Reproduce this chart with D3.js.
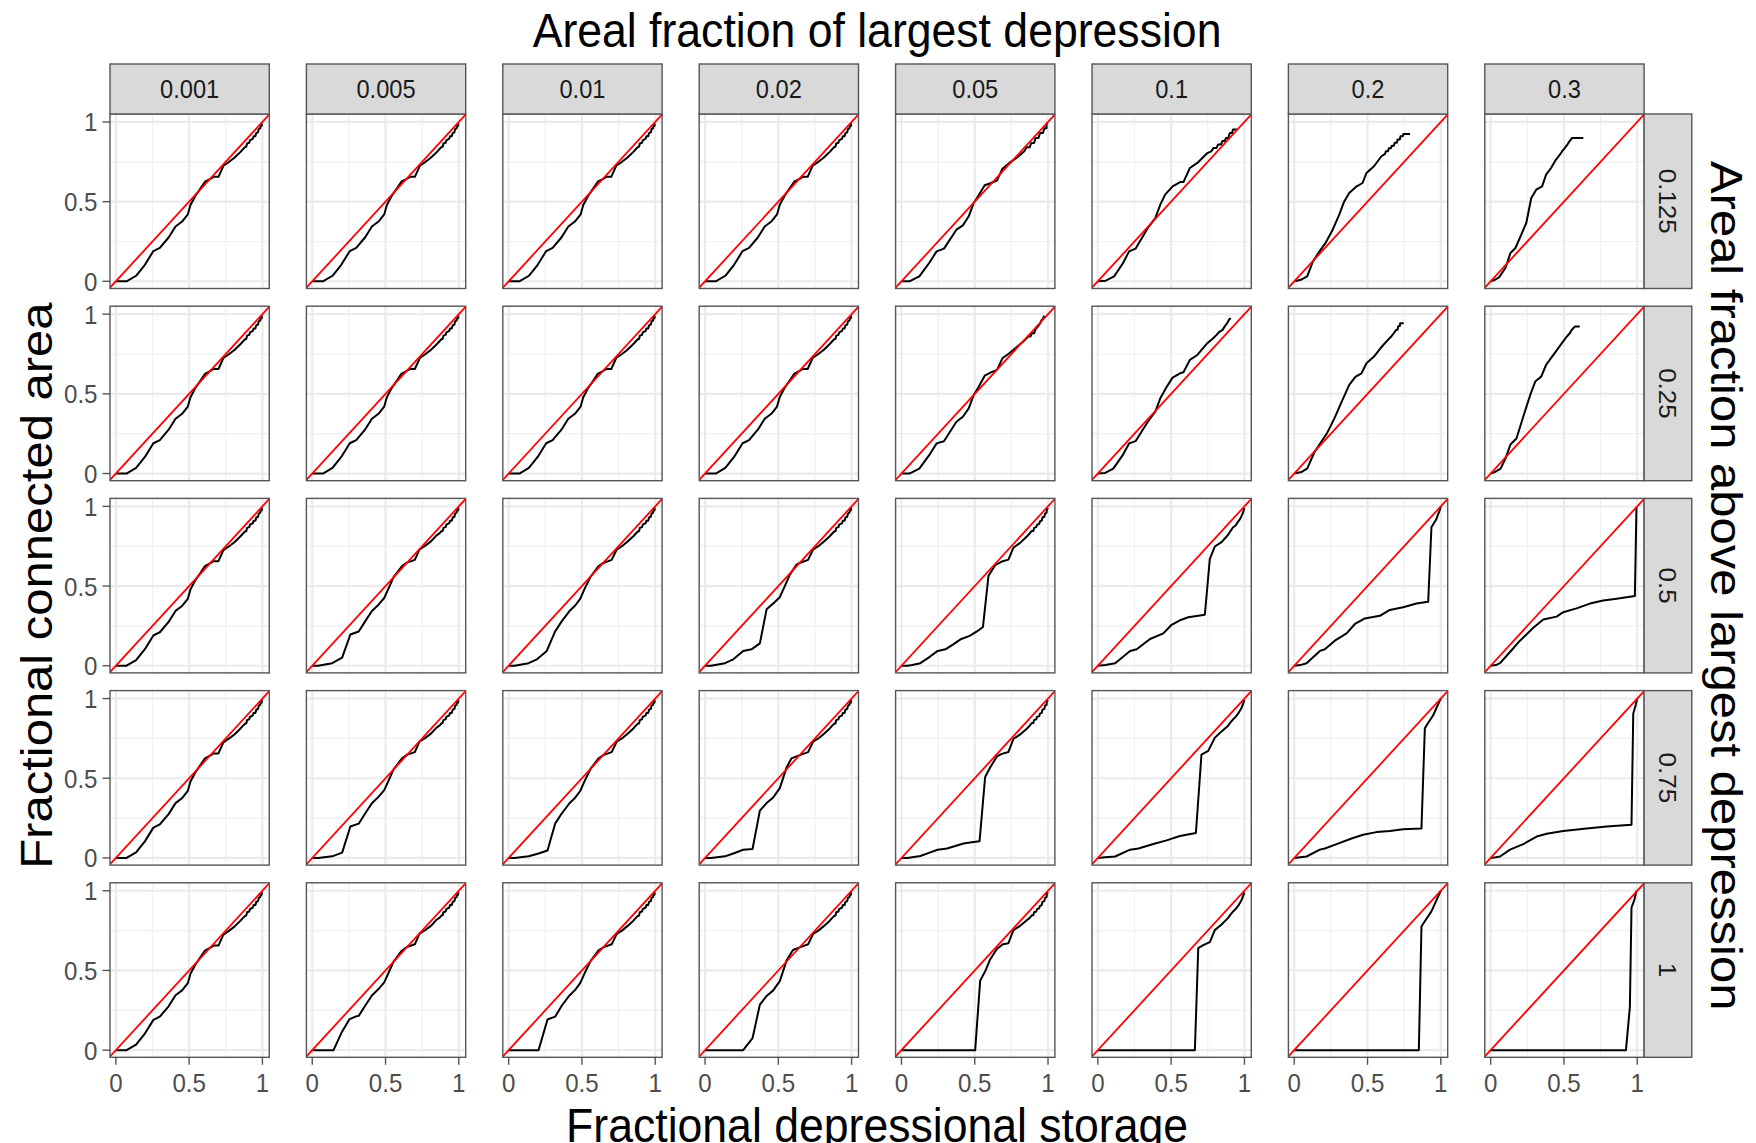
<!DOCTYPE html>
<html>
<head>
<meta charset="utf-8">
<script src="https://cdn.jsdelivr.net/npm/d3@7"></script>
<style>
  html, body { margin: 0; padding: 0; background: #ffffff; }
  svg { display: block; }
  text { font-family: "Liberation Sans", Arial, Helvetica, sans-serif; }
</style>
</head>
<body>
<svg id="chart" width="1756" height="1143"></svg>
<script>
// Facet levels
const colLevels = ["0.001", "0.005", "0.01", "0.02", "0.05", "0.1", "0.2", "0.3"];
const rowLevels = ["0.125", "0.25", "0.5", "0.75", "1"];

// Axis ticks and labels (same on both axes)
const tickValues = [0, 0.5, 1];
const tickLabels = ["0", "0.5", "1"];
const minorTicks = [0.25, 0.75];

// Titles
const titleTop = "Areal fraction of largest depression";
const titleRight = "Areal fraction above largest depression";
const titleX = "Fractional depressional storage";
const titleY = "Fractional connected area";

// Curves: [fractional depressional storage, fractional connected area]
const curveBase = [[0,0],[0.042,0],[0.073,0],[0.138,0.035],[0.198,0.104],[0.256,0.19],[0.3,0.21],[0.36,0.275],[0.407,0.344],[0.452,0.375],[0.491,0.42],[0.509,0.479],[0.543,0.5375],[0.574,0.579],[0.608,0.625],[0.642,0.642],[0.668,0.656],[0.7,0.656],[0.734,0.725],[0.773,0.75],[0.809,0.775],[0.851,0.8125],[0.868,0.83],[0.883,0.844],[0.89,0.844],[0.895,0.865],[0.91,0.87],[0.915,0.885],[0.935,0.895],[0.94,0.91],[0.952,0.91],[0.958,0.93],[0.97,0.935],[0.975,0.955],[0.985,0.96],[0.988,0.975],[0.995,0.975],[0.997,0.99],[1.0,0.99]];

const curveR1C5 = [[0,0],[0.054,0],[0.122,0.031],[0.189,0.115],[0.24,0.188],[0.29,0.205],[0.375,0.324],[0.419,0.351],[0.459,0.408],[0.493,0.492],[0.527,0.54],[0.568,0.603],[0.611,0.617],[0.652,0.632],[0.689,0.707],[0.736,0.743],[0.791,0.778],[0.838,0.816],[0.855,0.841],[0.875,0.841],[0.885,0.868],[0.905,0.868],[0.915,0.9],[0.935,0.9],[0.945,0.93],[0.965,0.93],[0.975,0.96],[0.99,0.96],[0.99,0.985],[0.995,0.995]];
const curveR1C6 = [[0,0],[0.054,0.004],[0.111,0.031],[0.172,0.115],[0.213,0.188],[0.257,0.205],[0.341,0.335],[0.392,0.397],[0.426,0.481],[0.459,0.544],[0.51,0.596],[0.561,0.623],[0.584,0.623],[0.628,0.711],[0.679,0.743],[0.747,0.805],[0.774,0.816],[0.79,0.837],[0.81,0.837],[0.82,0.858],[0.84,0.858],[0.85,0.88],[0.865,0.88],[0.875,0.9],[0.89,0.9],[0.9,0.93],[0.915,0.93],[0.922,0.952],[0.95,0.952]];
const curveR1C7 = [[0,0],[0.047,0.01],[0.088,0.031],[0.128,0.126],[0.172,0.188],[0.213,0.24],[0.257,0.314],[0.307,0.418],[0.34,0.5],[0.375,0.554],[0.426,0.596],[0.466,0.617],[0.493,0.68],[0.544,0.722],[0.595,0.785],[0.62,0.8],[0.625,0.816],[0.64,0.816],[0.645,0.835],[0.66,0.835],[0.665,0.85],[0.68,0.85],[0.685,0.87],[0.7,0.87],[0.705,0.89],[0.72,0.89],[0.725,0.91],[0.74,0.91],[0.745,0.925],[0.79,0.925]];
const curveR1C8 = [[0,0],[0.03,0.01],[0.057,0.025],[0.101,0.084],[0.135,0.178],[0.169,0.209],[0.209,0.293],[0.243,0.366],[0.277,0.523],[0.311,0.575],[0.351,0.596],[0.378,0.669],[0.412,0.711],[0.446,0.764],[0.46,0.78],[0.48,0.805],[0.49,0.82],[0.5,0.83],[0.514,0.847],[0.525,0.86],[0.535,0.875],[0.547,0.889],[0.555,0.9],[0.632,0.9]];

const curveR2C5 = [[0,0],[0.054,0],[0.122,0.031],[0.189,0.115],[0.24,0.189],[0.29,0.203],[0.375,0.325],[0.419,0.356],[0.459,0.409],[0.493,0.493],[0.527,0.545],[0.568,0.614],[0.611,0.635],[0.652,0.65],[0.689,0.723],[0.736,0.755],[0.791,0.797],[0.831,0.828],[0.85,0.845],[0.865,0.86],[0.88,0.86],[0.89,0.88],[0.905,0.88],[0.915,0.905],[0.93,0.922],[0.945,0.94],[0.955,0.96],[0.965,0.97],[0.975,0.99]];
const curveR2C6 = [[0,0],[0.05,0.004],[0.105,0.031],[0.172,0.119],[0.213,0.189],[0.257,0.203],[0.341,0.325],[0.392,0.388],[0.426,0.472],[0.47,0.545],[0.51,0.602],[0.561,0.629],[0.584,0.635],[0.628,0.713],[0.679,0.744],[0.747,0.818],[0.787,0.849],[0.81,0.87],[0.831,0.891],[0.85,0.9],[0.865,0.922],[0.88,0.94],[0.899,0.971],[0.909,0.971]];
const curveR2C7 = [[0,0],[0.05,0.01],[0.088,0.031],[0.139,0.136],[0.172,0.182],[0.223,0.252],[0.274,0.346],[0.324,0.451],[0.375,0.556],[0.419,0.608],[0.459,0.629],[0.493,0.692],[0.544,0.734],[0.588,0.786],[0.628,0.828],[0.662,0.86],[0.696,0.902],[0.705,0.902],[0.71,0.925],[0.72,0.925],[0.723,0.943],[0.747,0.943]];
const curveR2C8 = [[0,0],[0.03,0.01],[0.068,0.031],[0.101,0.094],[0.135,0.182],[0.176,0.22],[0.226,0.367],[0.27,0.493],[0.304,0.577],[0.345,0.608],[0.378,0.681],[0.419,0.734],[0.453,0.776],[0.486,0.818],[0.52,0.86],[0.54,0.88],[0.554,0.902],[0.574,0.922],[0.608,0.922]];

const curveR3C2 = [[0,0],[0.04,0],[0.136,0.016],[0.204,0.051],[0.26,0.196],[0.317,0.215],[0.362,0.28],[0.407,0.343],[0.452,0.383],[0.491,0.425],[0.52,0.484],[0.554,0.554],[0.611,0.624],[0.645,0.647],[0.7,0.664],[0.731,0.729],[0.769,0.752],[0.81,0.78],[0.848,0.818],[0.868,0.83],[0.883,0.846],[0.89,0.846],[0.895,0.865],[0.91,0.87],[0.915,0.885],[0.935,0.895],[0.94,0.91],[0.952,0.91],[0.958,0.93],[0.97,0.935],[0.975,0.955],[0.985,0.96],[0.988,0.975],[0.995,0.975],[0.997,0.99],[1.0,0.99]];
const curveR4C2 = [[0,0],[0.04,0],[0.136,0.01],[0.204,0.033],[0.26,0.197],[0.317,0.215],[0.362,0.28],[0.407,0.343],[0.452,0.383],[0.491,0.425],[0.52,0.484],[0.554,0.554],[0.611,0.624],[0.645,0.647],[0.7,0.664],[0.731,0.729],[0.769,0.752],[0.81,0.78],[0.848,0.818],[0.868,0.83],[0.883,0.846],[0.89,0.846],[0.895,0.865],[0.91,0.87],[0.915,0.885],[0.935,0.895],[0.94,0.91],[0.952,0.91],[0.958,0.93],[0.97,0.935],[0.975,0.955],[0.985,0.96],[0.988,0.975],[0.995,0.975],[0.997,0.99],[1.0,0.99]];
const curveR5C2 = [[0,0],[0.145,0],[0.2,0.11],[0.255,0.195],[0.3,0.212],[0.317,0.215],[0.362,0.28],[0.407,0.343],[0.452,0.383],[0.491,0.425],[0.52,0.484],[0.554,0.554],[0.611,0.624],[0.645,0.647],[0.7,0.664],[0.731,0.729],[0.769,0.752],[0.81,0.78],[0.848,0.818],[0.868,0.83],[0.883,0.846],[0.89,0.846],[0.895,0.865],[0.91,0.87],[0.915,0.885],[0.935,0.895],[0.94,0.91],[0.952,0.91],[0.958,0.93],[0.97,0.935],[0.975,0.955],[0.985,0.96],[0.988,0.975],[0.995,0.975],[0.997,0.99],[1.0,0.99]];

const curveR3C3 = [[0,0],[0.04,0],[0.136,0.016],[0.193,0.04],[0.26,0.093],[0.317,0.215],[0.363,0.28],[0.415,0.343],[0.454,0.378],[0.488,0.42],[0.522,0.49],[0.56,0.56],[0.612,0.624],[0.646,0.645],[0.703,0.664],[0.737,0.729],[0.773,0.75],[0.81,0.778],[0.851,0.8125],[0.868,0.83],[0.883,0.844],[0.89,0.844],[0.895,0.865],[0.91,0.87],[0.915,0.885],[0.935,0.895],[0.94,0.91],[0.952,0.91],[0.958,0.93],[0.97,0.935],[0.975,0.955],[0.985,0.96],[0.988,0.975],[0.995,0.975],[0.997,0.99],[1.0,0.99]];
const curveR4C3 = [[0,0],[0.04,0],[0.136,0.01],[0.204,0.028],[0.265,0.047],[0.317,0.215],[0.363,0.28],[0.415,0.343],[0.454,0.378],[0.488,0.42],[0.522,0.49],[0.56,0.56],[0.612,0.624],[0.646,0.645],[0.703,0.664],[0.737,0.729],[0.773,0.75],[0.81,0.778],[0.851,0.8125],[0.868,0.83],[0.883,0.844],[0.89,0.844],[0.895,0.865],[0.91,0.87],[0.915,0.885],[0.935,0.895],[0.94,0.91],[0.952,0.91],[0.958,0.93],[0.97,0.935],[0.975,0.955],[0.985,0.96],[0.988,0.975],[0.995,0.975],[0.997,0.99],[1.0,0.99]];
const curveR5C3 = [[0,0],[0.204,0],[0.265,0.192],[0.317,0.21],[0.363,0.28],[0.415,0.343],[0.454,0.378],[0.488,0.42],[0.522,0.49],[0.56,0.56],[0.612,0.624],[0.646,0.645],[0.703,0.664],[0.737,0.729],[0.773,0.75],[0.81,0.778],[0.851,0.8125],[0.868,0.83],[0.883,0.844],[0.89,0.844],[0.895,0.865],[0.91,0.87],[0.915,0.885],[0.935,0.895],[0.94,0.91],[0.952,0.91],[0.958,0.93],[0.97,0.935],[0.975,0.955],[0.985,0.96],[0.988,0.975],[0.995,0.975],[0.997,0.99],[1.0,0.99]];

const curveR3C4 = [[0,0],[0.04,0],[0.136,0.016],[0.193,0.04],[0.26,0.093],[0.317,0.103],[0.374,0.14],[0.42,0.355],[0.465,0.39],[0.51,0.43],[0.544,0.5],[0.578,0.57],[0.624,0.635],[0.646,0.645],[0.703,0.664],[0.737,0.729],[0.773,0.75],[0.81,0.778],[0.851,0.8125],[0.868,0.83],[0.883,0.844],[0.89,0.844],[0.895,0.865],[0.91,0.87],[0.915,0.885],[0.935,0.895],[0.94,0.91],[0.952,0.91],[0.958,0.93],[0.97,0.935],[0.975,0.955],[0.985,0.96],[0.988,0.975],[0.995,0.975],[0.997,0.99],[1.0,0.99]];
const curveR4C4 = [[0,0],[0.04,0],[0.136,0.01],[0.193,0.028],[0.26,0.051],[0.324,0.056],[0.374,0.297],[0.42,0.344],[0.465,0.379],[0.51,0.438],[0.556,0.567],[0.59,0.625],[0.646,0.645],[0.703,0.664],[0.737,0.729],[0.773,0.75],[0.81,0.778],[0.851,0.8125],[0.868,0.83],[0.883,0.844],[0.89,0.844],[0.895,0.865],[0.91,0.87],[0.915,0.885],[0.935,0.895],[0.94,0.91],[0.952,0.91],[0.958,0.93],[0.97,0.935],[0.975,0.955],[0.985,0.96],[0.988,0.975],[0.995,0.975],[0.997,0.99],[1.0,0.99]];
const curveR5C4 = [[0,0],[0.26,0],[0.324,0.075],[0.374,0.286],[0.42,0.34],[0.465,0.375],[0.51,0.433],[0.556,0.562],[0.6,0.628],[0.646,0.645],[0.703,0.664],[0.737,0.729],[0.773,0.75],[0.81,0.778],[0.851,0.8125],[0.868,0.83],[0.883,0.844],[0.89,0.844],[0.895,0.865],[0.91,0.87],[0.915,0.885],[0.935,0.895],[0.94,0.91],[0.952,0.91],[0.958,0.93],[0.97,0.935],[0.975,0.955],[0.985,0.96],[0.988,0.975],[0.995,0.975],[0.997,0.99],[1.0,0.99]];

const curveR3C5 = [[0,0],[0.04,0],[0.073,0.005],[0.129,0.016],[0.193,0.056],[0.247,0.093],[0.3,0.103],[0.351,0.133],[0.408,0.168],[0.465,0.187],[0.515,0.215],[0.556,0.243],[0.594,0.565],[0.639,0.631],[0.685,0.654],[0.73,0.666],[0.764,0.741],[0.81,0.771],[0.855,0.811],[0.875,0.83],[0.889,0.846],[0.9,0.846],[0.905,0.865],[0.92,0.87],[0.925,0.885],[0.94,0.89],[0.945,0.905],[0.957,0.91],[0.962,0.93],[0.975,0.935],[0.98,0.955],[0.99,0.96],[0.992,0.98],[1.0,0.99]];
const curveR4C5 = [[0,0],[0.04,0],[0.129,0.012],[0.197,0.035],[0.247,0.051],[0.311,0.059],[0.367,0.075],[0.424,0.091],[0.48,0.098],[0.533,0.105],[0.571,0.508],[0.605,0.567],[0.651,0.637],[0.685,0.653],[0.73,0.665],[0.764,0.747],[0.81,0.775],[0.855,0.811],[0.875,0.83],[0.889,0.846],[0.9,0.846],[0.905,0.865],[0.92,0.87],[0.925,0.885],[0.94,0.89],[0.945,0.905],[0.957,0.91],[0.962,0.93],[0.975,0.935],[0.98,0.955],[0.99,0.96],[0.992,0.98],[1.0,0.99]];
const curveR5C5 = [[0,0],[0.503,0],[0.537,0.435],[0.571,0.494],[0.605,0.569],[0.651,0.635],[0.692,0.664],[0.73,0.671],[0.764,0.753],[0.81,0.78],[0.855,0.815],[0.875,0.83],[0.889,0.846],[0.9,0.846],[0.905,0.865],[0.92,0.87],[0.925,0.885],[0.94,0.89],[0.945,0.905],[0.957,0.91],[0.962,0.93],[0.975,0.935],[0.98,0.955],[0.99,0.96],[0.992,0.98],[1.0,0.99]];

const curveR3C6 = [[0,0],[0.05,0.004],[0.118,0.016],[0.22,0.093],[0.265,0.103],[0.356,0.168],[0.447,0.203],[0.503,0.257],[0.56,0.285],[0.617,0.304],[0.73,0.32],[0.764,0.671],[0.798,0.748],[0.844,0.776],[0.889,0.822],[0.905,0.845],[0.923,0.869],[0.94,0.88],[0.957,0.904],[0.97,0.92],[0.98,0.939],[0.99,0.96],[1,0.99]];
const curveR4C6 = [[0,0],[0.05,0.004],[0.118,0.009],[0.22,0.052],[0.277,0.059],[0.379,0.087],[0.469,0.11],[0.56,0.138],[0.669,0.157],[0.707,0.649],[0.753,0.672],[0.798,0.754],[0.844,0.794],[0.889,0.83],[0.905,0.85],[0.923,0.87],[0.94,0.885],[0.957,0.905],[0.97,0.925],[0.98,0.94],[0.99,0.965],[1,0.99]];
const curveR5C6 = [[0,0],[0.662,0],[0.685,0.64],[0.719,0.659],[0.764,0.678],[0.798,0.753],[0.844,0.788],[0.889,0.83],[0.905,0.85],[0.923,0.87],[0.94,0.885],[0.957,0.905],[0.97,0.925],[0.98,0.94],[0.99,0.965],[1,0.99]];

const curveR3C7 = [[0,0],[0.04,0.004],[0.084,0.016],[0.175,0.093],[0.209,0.103],[0.277,0.157],[0.357,0.203],[0.414,0.262],[0.482,0.297],[0.584,0.313],[0.652,0.35],[0.743,0.367],[0.834,0.39],[0.914,0.402],[0.936,0.869],[0.959,0.904],[0.97,0.92],[0.982,0.951],[0.99,0.97],[1,0.998]];
const curveR4C7 = [[0,0],[0.04,0.004],[0.084,0.009],[0.175,0.052],[0.209,0.059],[0.289,0.087],[0.391,0.122],[0.47,0.145],[0.561,0.162],[0.652,0.169],[0.743,0.18],[0.868,0.185],[0.891,0.813],[0.914,0.848],[0.93,0.87],[0.948,0.895],[0.965,0.93],[0.982,0.965],[1,1]];
const curveR5C7 = [[0,0],[0.85,0],[0.868,0.776],[0.902,0.824],[0.936,0.871],[0.959,0.918],[0.982,0.965],[1,1]];

const curveR3C8 = [[0,0],[0.035,0.004],[0.064,0.016],[0.132,0.086],[0.2,0.157],[0.291,0.238],[0.359,0.29],[0.45,0.308],[0.495,0.336],[0.586,0.36],[0.677,0.39],[0.768,0.409],[0.859,0.421],[0.984,0.437],[0.995,0.998]];
const curveR4C8 = [[0,0],[0.035,0.004],[0.064,0.009],[0.132,0.052],[0.223,0.087],[0.314,0.134],[0.382,0.152],[0.495,0.169],[0.655,0.185],[0.791,0.197],[0.961,0.208],[0.973,0.906],[0.991,0.965],[1,1]];
const curveR5C8 = [[0,0],[0.923,0],[0.95,0.27],[0.961,0.894],[0.98,0.941],[0.995,1]];

// Which curve sits in which facet (rows × columns)
const facetCurves = [
  [curveBase, curveBase, curveBase, curveBase, curveR1C5, curveR1C6, curveR1C7, curveR1C8],
  [curveBase, curveBase, curveBase, curveBase, curveR2C5, curveR2C6, curveR2C7, curveR2C8],
  [curveBase, curveR3C2, curveR3C3, curveR3C4, curveR3C5, curveR3C6, curveR3C7, curveR3C8],
  [curveBase, curveR4C2, curveR4C3, curveR4C4, curveR4C5, curveR4C6, curveR4C7, curveR4C8],
  [curveBase, curveR5C2, curveR5C3, curveR5C4, curveR5C5, curveR5C6, curveR5C7, curveR5C8]
];

// ---- layout ----
const squeeze = 0.91;           // horizontal glyph compression
const panelLeft0 = 110, colPitch = 196.4, panelW = 159.3;
const panelTop0 = 114, rowPitch = 192.2, panelH = 174.5;
const stripH = 50, stripW = 47.7;
const xDomain = [-0.04, 1.047];
const yDomain = [-0.045, 1.05];
const tickLen = 7.5;
const tickFont = 26.5, stripFont = 26, titleFont = 49;
const borderColour = "#555555";

const svg = d3.select("#chart");

function addText(g, str, x, y, opts) {
  return g.append("text")
    .attr("transform", `translate(${x},${y}) scale(${squeeze},1)` + (opts.rotate ? ` rotate(${opts.rotate})` : ""))
    .attr("font-size", opts.size)
    .attr("fill", opts.fill || "#000")
    .attr("text-anchor", opts.anchor || "middle")
    .text(str);
}

const lastRow = rowLevels.length - 1;
const lastCol = colLevels.length - 1;

rowLevels.forEach((rl, ri) => {
  colLevels.forEach((cl, ci) => {
    const left = panelLeft0 + ci * colPitch;
    const top = panelTop0 + ri * rowPitch;
    const x = d3.scaleLinear().domain(xDomain).range([left, left + panelW]);
    const y = d3.scaleLinear().domain(yDomain).range([top + panelH, top]);
    const g = svg.append("g");

    const clipId = `clip-${ri}-${ci}`;
    g.append("clipPath").attr("id", clipId)
      .append("rect").attr("x", left).attr("y", top).attr("width", panelW).attr("height", panelH);

    g.append("rect").attr("x", left).attr("y", top).attr("width", panelW).attr("height", panelH)
      .attr("fill", "#ffffff");

    const grid = g.append("g").attr("clip-path", `url(#${clipId})`);
    minorTicks.forEach(v => {
      grid.append("line").attr("x1", x(v)).attr("x2", x(v)).attr("y1", top).attr("y2", top + panelH)
        .attr("stroke", "#f0f0f0").attr("stroke-width", 1.2);
      grid.append("line").attr("y1", y(v)).attr("y2", y(v)).attr("x1", left).attr("x2", left + panelW)
        .attr("stroke", "#f0f0f0").attr("stroke-width", 1.2);
    });
    tickValues.forEach(v => {
      grid.append("line").attr("x1", x(v)).attr("x2", x(v)).attr("y1", top).attr("y2", top + panelH)
        .attr("stroke", "#ebebeb").attr("stroke-width", 2.2);
      grid.append("line").attr("y1", y(v)).attr("y2", y(v)).attr("x1", left).attr("x2", left + panelW)
        .attr("stroke", "#ebebeb").attr("stroke-width", 2.2);
    });

    const marks = g.append("g").attr("clip-path", `url(#${clipId})`);
    const line = d3.line().x(d => x(d[0])).y(d => y(d[1]));
    marks.append("path").datum(facetCurves[ri][ci]).attr("d", line)
      .attr("fill", "none").attr("stroke", "#000000").attr("stroke-width", 2)
      .attr("stroke-linejoin", "round");
    marks.append("path").datum([[-0.05, -0.05], [1.06, 1.06]]).attr("d", line)
      .attr("fill", "none").attr("stroke", "#ff0000").attr("stroke-width", 1.8);

    g.append("rect").attr("x", left).attr("y", top).attr("width", panelW).attr("height", panelH)
      .attr("fill", "none").attr("stroke", borderColour).attr("stroke-width", 1.4);

    // y axis on first column
    if (ci === 0) {
      tickValues.forEach((v, k) => {
        g.append("line").attr("x1", left - tickLen).attr("x2", left).attr("y1", y(v)).attr("y2", y(v))
          .attr("stroke", borderColour).attr("stroke-width", 1.4);
        addText(g, tickLabels[k], left - tickLen - 5, y(v) + 0.358 * tickFont,
          { size: tickFont, fill: "#4d4d4d", anchor: "end" });
      });
    }
    // x axis on last row
    if (ri === lastRow) {
      tickValues.forEach((v, k) => {
        g.append("line").attr("x1", x(v)).attr("x2", x(v)).attr("y1", top + panelH).attr("y2", top + panelH + tickLen)
          .attr("stroke", borderColour).attr("stroke-width", 1.4);
        addText(g, tickLabels[k], x(v), top + panelH + tickLen + 8 + 0.716 * tickFont,
          { size: tickFont, fill: "#4d4d4d", anchor: "middle" });
      });
    }
    // column strip on first row
    if (ri === 0) {
      g.append("rect").attr("x", left).attr("y", top - stripH).attr("width", panelW).attr("height", stripH)
        .attr("fill", "#d9d9d9").attr("stroke", borderColour).attr("stroke-width", 1.4);
      addText(g, cl, left + panelW / 2, top - stripH / 2 + 0.358 * stripFont,
        { size: stripFont, fill: "#1a1a1a" });
    }
    // row strip on last column
    if (ci === lastCol) {
      g.append("rect").attr("x", left + panelW).attr("y", top).attr("width", stripW).attr("height", panelH)
        .attr("fill", "#d9d9d9").attr("stroke", borderColour).attr("stroke-width", 1.4);
      addText(g, rl, left + panelW + stripW / 2 - 0.358 * stripFont * squeeze, top + panelH / 2,
        { size: stripFont, fill: "#1a1a1a", rotate: 90 });
    }
  });
});

// Titles
const plotLeft = panelLeft0, plotRight = panelLeft0 + lastCol * colPitch + panelW;
const plotTop = panelTop0, plotBottom = panelTop0 + lastRow * rowPitch + panelH;
const cx = (plotLeft + plotRight) / 2, cy = (plotTop + plotBottom) / 2;
const titles = svg.append("g");
addText(titles, titleTop, cx, 47, { size: titleFont });
addText(titles, titleX, cx, 1142, { size: titleFont });
addText(titles, titleY, 52, cy, { size: titleFont, rotate: -90 });
addText(titles, titleRight, 1711, cy, { size: titleFont, rotate: 90 });
</script>
</body>
</html>
